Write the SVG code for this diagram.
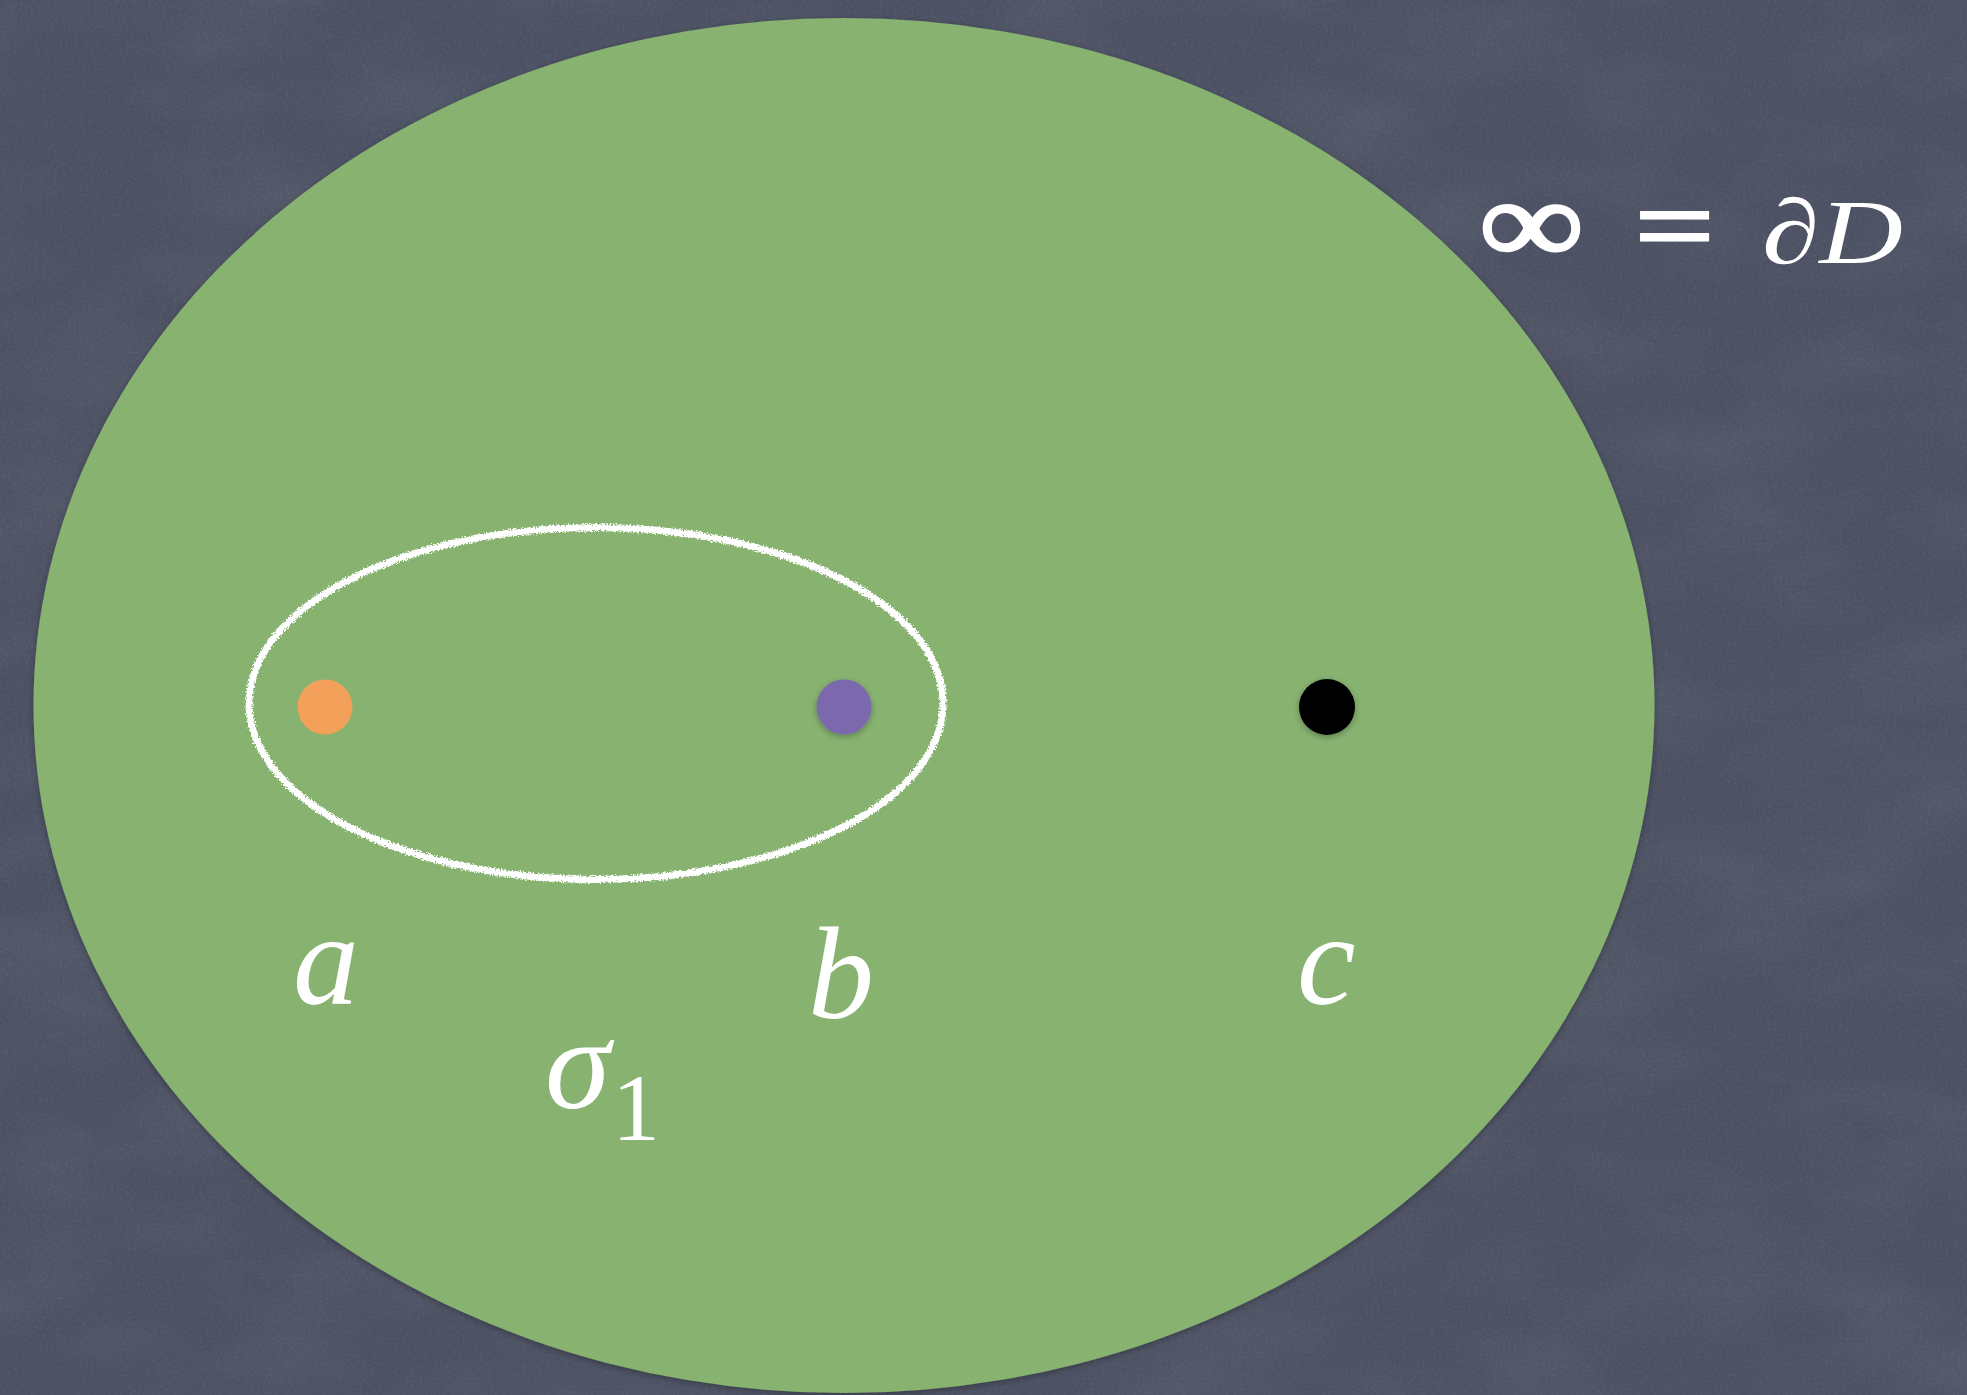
<svg xmlns="http://www.w3.org/2000/svg" width="1967" height="1395" viewBox="0 0 1967 1395">
  <defs>
    <style>
      .lbl { font-family: "Liberation Serif", "Times New Roman", serif; font-style: italic; fill: #ffffff; }
      .up { font-family: "Liberation Serif", "Times New Roman", serif; font-style: normal; fill: #ffffff; }
      .heavy { stroke: #ffffff; stroke-width: 3; }
    </style>
    <filter id="grain" x="0" y="0" width="100%" height="100%">
      <feTurbulence type="fractalNoise" baseFrequency="0.35" numOctaves="2" seed="4" result="n"/>
      <feColorMatrix in="n" type="matrix" values="0 0 0 0 1  0 0 0 0 1  0 0 0 0 1  0 0 0 0.5 -0.22"/>
    </filter>
    <filter id="smudge" x="0" y="0" width="100%" height="100%">
      <feTurbulence type="fractalNoise" baseFrequency="0.006 0.012" numOctaves="3" seed="11" result="n"/>
      <feColorMatrix in="n" type="matrix" values="0 0 0 0 1  0 0 0 0 1  0 0 0 0 1  0 0 0 0.2 -0.08"/>
    </filter>
    <filter id="chalk" x="-5%" y="-5%" width="110%" height="110%">
      <feTurbulence type="fractalNoise" baseFrequency="0.6" numOctaves="2" seed="7" result="t"/>
      <feDisplacementMap in="SourceGraphic" in2="t" scale="6" xChannelSelector="R" yChannelSelector="G"/>
    </filter>
    <filter id="soft" x="-50%" y="-50%" width="200%" height="200%">
      <feGaussianBlur in="SourceAlpha" stdDeviation="3"/>
      <feOffset dx="0" dy="2" result="b"/>
      <feComponentTransfer><feFuncA type="linear" slope="0.3"/></feComponentTransfer>
      <feMerge><feMergeNode/><feMergeNode in="SourceGraphic"/></feMerge>
    </filter>
  </defs>

  <g id="background">
    <rect x="0" y="0" width="1967" height="1395" fill="#4c5163"/>
    <rect x="0" y="0" width="1967" height="1395" filter="url(#smudge)" opacity="0.5"/>
    <rect x="0" y="0" width="1967" height="1395" filter="url(#grain)" opacity="0.25"/>
  </g>

  <g id="disk-D">
    <ellipse cx="844" cy="705.5" rx="810.5" ry="687.5" fill="#87b270" filter="url(#soft)"/>
  </g>

  <g id="loop-sigma1">
    <ellipse cx="596" cy="703.5" rx="347" ry="176" fill="none" stroke="#ffffff" stroke-width="7" filter="url(#chalk)"/>
  </g>

  <g id="point-a">
    <circle cx="325" cy="707" r="27.5" fill="#f2a05a"/>
  </g>
  <g id="point-b">
    <circle cx="844" cy="707" r="27.5" fill="#7b69ad" filter="url(#soft)"/>
  </g>
  <g id="point-c">
    <circle cx="1327" cy="707" r="28" fill="#000000" filter="url(#soft)"/>
  </g>

  <g id="connectors"></g>

  <g id="labels">
    <text class="lbl" x="293" y="1004" font-size="132">a</text>
    <text class="lbl" x="808" y="1018" font-size="132">b</text>
    <text class="lbl" x="1297" y="1004" font-size="132">c</text>
    <text class="lbl" x="545" y="1108" font-size="132">σ</text>
    <text class="up" x="612" y="1140" font-size="96">1</text>
  </g>

  <g id="title">
    <text class="up heavy" x="1479" y="263" font-size="120" textLength="105" lengthAdjust="spacingAndGlyphs">∞</text>
    <text class="up heavy" x="1635" y="263" font-size="110" textLength="79" lengthAdjust="spacingAndGlyphs">=</text>
    <text class="lbl" x="1762" y="263" font-size="92" textLength="141" lengthAdjust="spacingAndGlyphs">∂D</text>
  </g>
</svg>
